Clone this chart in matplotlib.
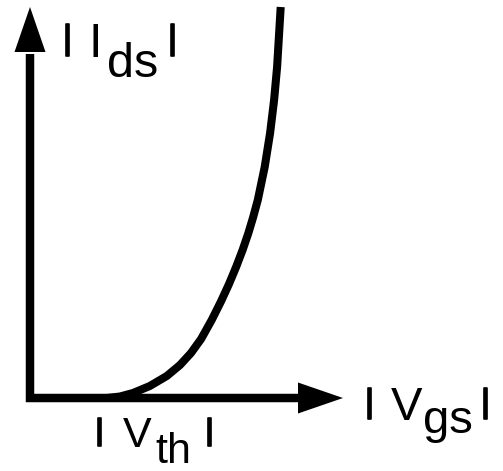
import matplotlib
matplotlib.use("Agg")
import matplotlib.pyplot as plt
import matplotlib.patheffects as pe

# transfer curve |Ids| vs |Vgs| (arbitrary units, origin at the axes corner)
vgs = [77, 90, 103, 119.8, 136.8, 150, 161, 171.1, 181.7, 191.2, 199, 206.1,
       212.6, 218.4, 223.2, 227.8, 234.7, 240.1, 244.1, 247.1, 250.7]
ids = [0, 1.5, 5, 12, 22, 33, 45, 59, 78, 97, 114, 131,
       148, 165, 181, 198, 231, 265, 298, 331, 391]

fig = plt.figure(figsize=(5.03, 4.71), dpi=100)
ax = fig.add_axes([0, 0, 1, 1])
ax.set_xlim(-30, 473)
ax.set_ylim(-73, 398)
ax.axis('off')

# axes: L-shaped shaft plus two triangular heads
ax.plot([0, 0, 270], [344, 0, 0], color='black', lw=6.1,
        solid_joinstyle='miter', solid_capstyle='butt')
ax.fill([-15.5, 15.5, 0], [346, 346, 391], color='black', lw=0)
ax.fill([268, 268, 313], [-15.5, 15.5, 0], color='black', lw=0)

# curve
ax.plot(vgs, ids, color='black', lw=5.8, solid_capstyle='butt', solid_joinstyle='round')

font = 'Liberation Sans'
stroke = [pe.withStroke(linewidth=1.2, foreground='black')]


def bar(x, base, h):
    # vertical bar '|' sized so its ink sits on the baseline
    em = (h - 1.7) / 0.939
    ax.text(x, base + 0.21 * em + 0.85, '|', fontsize=em * 0.72, family=font,
            ha='center', va='baseline', path_effects=stroke)


def label(xs, base, sub_base, main, sub, size, h):
    bar(xs[0], base, h)
    ax.text(xs[1], base, main, fontsize=size, family=font, ha='center', va='baseline')
    ax.text(xs[2], sub_base, sub, fontsize=size, family=font, ha='center', va='baseline')
    bar(xs[3], base, h)


# |Ids|
label([37.5, 65, 102.5, 142.5], 398 - 57, 398 - 77, 'I', 'ds', 35, 34)
# |Vgs|
label([339.5, 376.5, 417.5, 455.5], 398 - 420, 398 - 433, 'V', 'gs', 34, 33)
# |Vth|
label([69.5, 107, 143.5, 179.5], 398 - 447, 398 - 463, 'V', 'th', 31, 30)

fig.savefig('out.png', dpi=100)
